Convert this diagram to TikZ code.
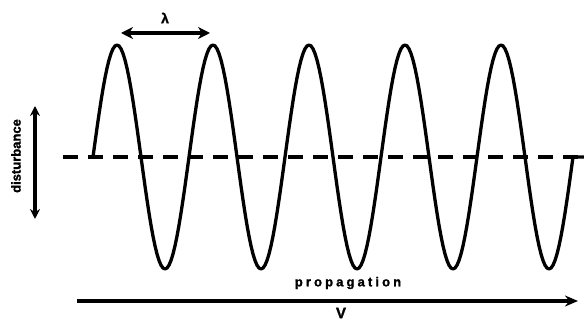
\documentclass[tikz,border=0pt]{standalone}
\usepackage{fontspec}
\setmainfont{Liberation Sans}[BoldFeatures={FakeBold=1.5}]
\usetikzlibrary{arrows.meta}

\tikzset{
  wave/.style={line width=3.3pt, line join=round},
  midline/.style={line width=3.3pt, dash pattern=on 15pt off 10pt},
  dimarrow/.style={line width=3.3pt, {Stealth[length=12pt,width=12pt]}-{Stealth[length=12pt,width=12pt]}},
  axisarrow/.style={line width=3.3pt, -{Stealth[length=13pt,width=11pt]}},
  lbl/.style={font=\fontsize{13}{13}\selectfont\bfseries, inner sep=0pt}
}

\begin{document}
\begin{tikzpicture}[x=1pt,y=-1pt]
\useasboundingbox (0,0) rectangle (584,320);

% rest line
\coordinate (M0) at (63,157);
\coordinate (M1) at (584,157);
\draw[midline] (M0)--(M1);

% the wave, five periods (96 per period)
\coordinate (W0) at (93,157);
\coordinate (W1) at (573,157);
\draw[wave] (W0) -- plot[domain=0:480,samples=241] ({93+\x},{157-112*sin(\x*3.75)}) -- (W1) -- (M1);

% wavelength
\coordinate (A) at (121,33);
\coordinate (B) at (210,33);
\draw[dimarrow] (A)--(B);
\node[lbl,font=\fontsize{14}{14}\selectfont\bfseries] (lam) at (165,18) {λ};

% disturbance
\coordinate (D0) at (35,106);
\coordinate (D1) at (35,219);
\draw[dimarrow,{Stealth[length=10pt,width=10pt]}-{Stealth[length=10pt,width=10pt]}] (D0)--(D1);
\node[lbl,rotate=90] (dist) at (16,156) {disturbance};

% propagation
\coordinate (P0) at (77,301);
\coordinate (P1) at (578,301);
\draw[axisarrow] (P0)--(P1);
\node[lbl,font=\fontsize{13}{13}\selectfont\bfseries\addfontfeatures{LetterSpace=24}] (prop) at (348,283) {propagation};
\node[lbl,font=\fontsize{15}{15}\selectfont\bfseries] (vel) at (341,313) {V};

\end{tikzpicture}
\end{document}
